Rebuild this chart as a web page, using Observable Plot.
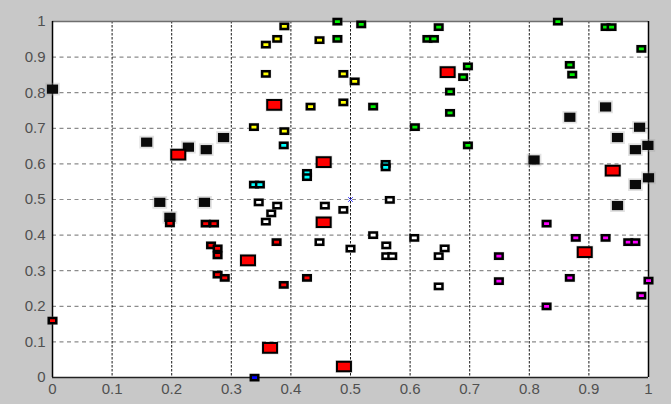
<!DOCTYPE html>
<html>
<head>
<meta charset="utf-8">
<script src="https://cdn.jsdelivr.net/npm/d3@7"></script>
<script src="https://cdn.jsdelivr.net/npm/@observablehq/plot@0.6"></script>
<style>
  html, body { margin: 0; padding: 0; background: #c8c8c8; }
  #chart { width: 671px; height: 404px; }
  #chart svg g[aria-label="x-axis tick label"] text,
  #chart svg g[aria-label="y-axis tick label"] text { font-size: 15px; }
</style>
</head>
<body>
<div id="chart"></div>
<script>
// ---- data ----
const xTicks = [0, 0.1, 0.2, 0.3, 0.4, 0.5, 0.6, 0.7, 0.8, 0.9, 1];
const yTicks = [0, 0.1, 0.2, 0.3, 0.4, 0.5, 0.6, 0.7, 0.8, 0.9, 1];
const tickLabels = ["0", "0.1", "0.2", "0.3", "0.4", "0.5", "0.6", "0.7", "0.8", "0.9", "1"];

const blackPts = [
  [0, 0.81], [0.158, 0.661], [0.228, 0.647], [0.258, 0.64], [0.287, 0.674],
  [0.18, 0.492], [0.255, 0.492], [0.197, 0.45],
  [0.928, 0.76], [0.868, 0.731], [0.985, 0.703], [0.948, 0.674],
  [0.978, 0.64], [0.999, 0.652], [0.808, 0.611], [0.978, 0.542],
  [1.0, 0.561], [0.948, 0.483]
];
const whitePts = [
  [0.346, 0.492], [0.377, 0.483], [0.367, 0.461], [0.358, 0.438],
  [0.457, 0.483], [0.488, 0.471], [0.448, 0.38], [0.5, 0.362],
  [0.566, 0.499], [0.538, 0.4], [0.607, 0.392], [0.56, 0.371],
  [0.56, 0.341], [0.57, 0.341], [0.658, 0.363], [0.648, 0.341], [0.648, 0.256]
];
const yellowPts = [
  [0.389, 0.986], [0.377, 0.951], [0.358, 0.935], [0.448, 0.948],
  [0.358, 0.853], [0.488, 0.853], [0.507, 0.832], [0.488, 0.773],
  [0.433, 0.761], [0.338, 0.703], [0.389, 0.692]
];
const greenPts = [
  [0.478, 1.0], [0.478, 0.951], [0.518, 0.992], [0.648, 0.984],
  [0.629, 0.951], [0.64, 0.951], [0.697, 0.874], [0.689, 0.844],
  [0.667, 0.803], [0.667, 0.743], [0.538, 0.761], [0.608, 0.703],
  [0.697, 0.652], [0.848, 1.0], [0.928, 0.984], [0.938, 0.984],
  [0.988, 0.923], [0.868, 0.878], [0.872, 0.851]
];
const cyanPts = [
  [0.388, 0.652], [0.338, 0.542], [0.348, 0.542],
  [0.427, 0.575], [0.427, 0.563], [0.559, 0.6], [0.559, 0.59]
];
const magentaPts = [
  [0.749, 0.341], [0.749, 0.271], [0.829, 0.432], [0.829, 0.2],
  [0.878, 0.392], [0.868, 0.28], [0.928, 0.392], [0.966, 0.38],
  [0.978, 0.38], [1.0, 0.272], [0.988, 0.23]
];
const bluePts = [[0.339, 0.0]];
const redSmallPts = [
  [0, 0.16], [0.197, 0.433], [0.257, 0.432], [0.271, 0.432],
  [0.266, 0.371], [0.277, 0.363], [0.277, 0.343], [0.277, 0.289],
  [0.289, 0.28], [0.376, 0.38], [0.388, 0.26], [0.427, 0.28]
];
const redBigPts = [
  [0.211, 0.626], [0.372, 0.766], [0.455, 0.605], [0.455, 0.436],
  [0.663, 0.858], [0.94, 0.581], [0.893, 0.352], [0.328, 0.329],
  [0.365, 0.083], [0.489, 0.031]
];
const centerPts = [[0.5, 0.5]];

// ---- rectangular marker symbol (wider than tall) ----
function rectSymbol(aspect) {
  return {
    draw(ctx, size) {
      const w = Math.sqrt(size / Math.PI);
      const h = w * aspect;
      ctx.moveTo(-w, -h); ctx.lineTo(w, -h); ctx.lineTo(w, h); ctx.lineTo(-w, h); ctx.closePath();
    }
  };
}
const smallSym = rectSymbol(0.7);
const bigSym = rectSymbol(0.69);
const blackSym = rectSymbol(0.82);

function haloLayer(data, r, sym) {
  return Plot.dot(data, {x: d => d[0], y: d => d[1], r, symbol: sym, fill: "none",
    stroke: "#a0a0a0", strokeWidth: 3.5, strokeOpacity: 0.3});
}
function smallLayer(data, color) {
  return Plot.dot(data, {x: d => d[0], y: d => d[1], r: 3.75, symbol: smallSym,
    fill: color, stroke: "#000", strokeWidth: 2.5});
}

const chart = Plot.plot({
  width: 671,
  height: 404,
  marginLeft: 52,
  marginRight: 23,
  marginTop: 21,
  marginBottom: 27,
  style: {background: "#c8c8c8", fontFamily: "Liberation Sans, Arial, sans-serif", fontSize: "15px", overflow: "visible"},
  x: {domain: [0, 1], label: null, axis: null},
  y: {domain: [0, 1], label: null, axis: null},
  marks: [
    Plot.frame({fill: "white", stroke: "none"}),
    Plot.ruleY(yTicks.slice(1, -1), {stroke: "#8c8c8c", strokeDasharray: "4,3.5", strokeWidth: 1.2}),
    Plot.ruleX(xTicks.slice(1, -1), {stroke: "#1a1a1a", strokeDasharray: "2.5,1.5", strokeWidth: 1}),
    Plot.ruleY([1], {stroke: "#6e6e6e", strokeWidth: 1.5}),
    Plot.ruleX([0], {stroke: "#000", strokeWidth: 1.5}),
    Plot.ruleX([1], {stroke: "#000", strokeWidth: 1.5}),
    Plot.ruleY([0], {stroke: "#222", strokeWidth: 1.5}),
    Plot.axisX(xTicks, {tickSize: 0, tickPadding: 6, fontSize: 15, fill: "#505050",
      tickFormat: d => tickLabels[xTicks.indexOf(d)], label: null}),
    Plot.axisY(yTicks, {tickSize: 0, tickPadding: 7, fontSize: 15, fill: "#505050",
      tickFormat: d => tickLabels[yTicks.indexOf(d)], label: null}),
    // halos
    haloLayer(blackPts, 5.6, blackSym),
    haloLayer(whitePts, 3.75, smallSym),
    haloLayer(yellowPts, 3.75, smallSym),
    haloLayer(greenPts, 3.75, smallSym),
    haloLayer(cyanPts, 3.75, smallSym),
    haloLayer(magentaPts, 3.75, smallSym),
    haloLayer(redSmallPts, 3.75, smallSym),
    haloLayer(redBigPts, 7, bigSym),
    // markers
    Plot.dot(blackPts, {x: d => d[0], y: d => d[1], r: 5.6, symbol: blackSym, fill: "#0a0a0a", stroke: "none"}),
    Plot.dot(whitePts, {x: d => d[0], y: d => d[1], r: 3.75, symbol: smallSym, fill: "#fff", stroke: "#000", strokeWidth: 2.5}),
    smallLayer(yellowPts, "#ffff00"),
    smallLayer(greenPts, "#00ee00"),
    smallLayer(cyanPts, "#00ffff"),
    smallLayer(magentaPts, "#ff00ff"),
    smallLayer(bluePts, "#0000ff"),
    smallLayer(redSmallPts, "#ff0000"),
    Plot.dot(redBigPts, {x: d => d[0], y: d => d[1], r: 7, symbol: bigSym, fill: "#ff0000", stroke: "#000", strokeWidth: 2}),
    Plot.dot(centerPts, {x: d => d[0], y: d => d[1], r: 2.2, symbol: "times", stroke: "#3030ff", strokeWidth: 1})
  ]
});
document.getElementById("chart").appendChild(chart);
</script>
</body>
</html>
